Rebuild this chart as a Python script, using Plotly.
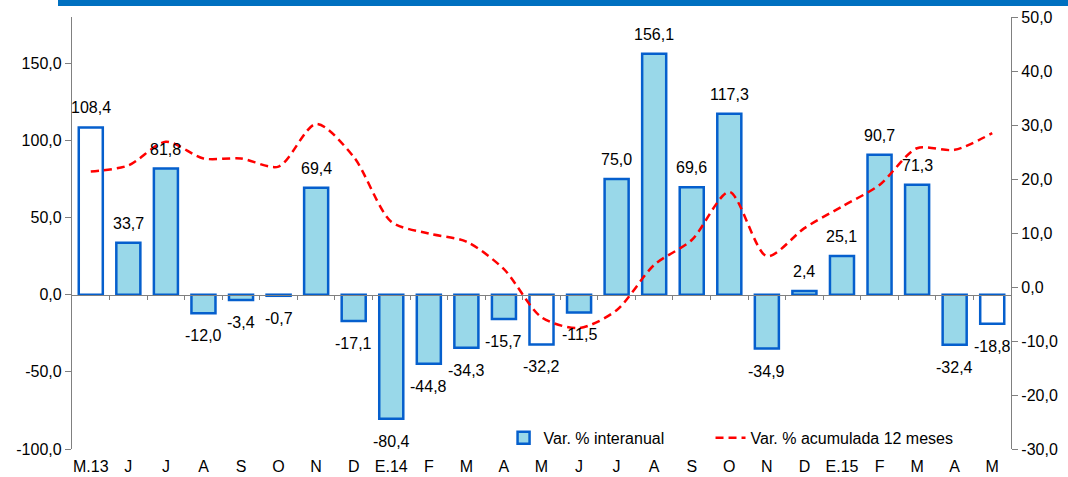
import plotly.graph_objects as go

# ---- data ----
months = ["M.13", "J", "J", "A", "S", "O", "N", "D", "E.14", "F", "M", "A", "M",
          "J", "J", "A", "S", "O", "N", "D", "E.15", "F", "M", "A", "M"]
interanual = [108.4, 33.7, 81.8, -12.0, -3.4, -0.7, 69.4, -17.1, -80.4, -44.8, -34.3,
              -15.7, -32.2, -11.5, 75.0, 156.1, 69.6, 117.3, -34.9, 2.4, 25.1, 90.7,
              71.3, -32.4, -18.8]
acumulada = [21.4, 22.5, 26.9, 23.8, 23.8, 22.3, 30.2, 24.1, 12.1, 9.9, 8.4, 3.3, -5.6,
             -7.6, -4.3, 4.1, 8.7, 17.6, 5.7, 10.9, 14.9, 18.9, 25.7, 25.4, 28.5]
same_month = [0, 12, 24]  # May bars drawn with white fill
left_ticks = [-100, -50, 0, 50, 100, 150]
right_ticks = [-30, -20, -10, 0, 10, 20, 30, 40, 50]


def fmt(v):
    return f"{v:.1f}".replace(".", ",")


x = list(range(len(months)))
y_main = [v if i not in same_month else None for i, v in enumerate(interanual)]
y_may = [v if i in same_month else None for i, v in enumerate(interanual)]

FONT = "Liberation Sans, Arial, sans-serif"
BAR_LINE = "rgb(5,95,205)"
BAR_FILL = "rgb(153,216,233)"
AXIS = "rgb(128,128,128)"

fig = go.Figure()
fig.add_trace(go.Bar(
    x=x, y=y_main, name="Var. % interanual", legend="legend",
    marker=dict(color=BAR_FILL, line=dict(color=BAR_LINE, width=2.5)),
    width=0.64, hoverinfo="skip",
))
fig.add_trace(go.Bar(
    x=x, y=y_may, name="mayo", showlegend=False,
    marker=dict(color="white", line=dict(color=BAR_LINE, width=2.5)),
    width=0.64, hoverinfo="skip",
))
fig.add_trace(go.Scatter(
    x=x, y=acumulada, name="Var. % acumulada 12 meses", legend="legend2",
    mode="lines", xaxis="x2", yaxis="y2",
    line=dict(color="rgb(255,0,0)", width=2.5, dash="8px,5px", shape="spline", smoothing=0.8),
    hoverinfo="skip",
))

# data labels
annotations = []
for i, v in enumerate(interanual):
    pos = v >= 0
    annotations.append(dict(
        x=i, y=v, xref="x", yref="y", text=fmt(v), showarrow=False,
        yanchor="bottom" if pos else "top",
        yshift=9 if pos else -12,
        font=dict(size=16, color="black", family=FONT),
    ))

leg_common = dict(orientation="h", y=-0.0135, xanchor="left", yanchor="bottom",
                  bgcolor="rgba(0,0,0,0)", font=dict(size=16, family=FONT))

fig.update_layout(
    width=1068, height=477,
    margin=dict(l=72, r=57, t=17, b=28, autoexpand=False),
    paper_bgcolor="white", plot_bgcolor="white",
    barmode="overlay",
    font=dict(family=FONT, size=16, color="black"),
    showlegend=True,
    legend=dict(x=0.4596, **leg_common),
    legend2=dict(x=0.680, **leg_common),
    xaxis=dict(
        range=[-0.5, len(months) - 0.5],
        tickmode="array", tickvals=x, ticktext=months,
        showline=False, showgrid=False, zeroline=False, ticks="",
        ticklabelstandoff=6, automargin=False,
        tickfont=dict(size=16, family=FONT),
    ),
    xaxis2=dict(
        range=[-0.5, len(months) - 0.5], overlaying="x", anchor="free",
        position=(0 - (-100)) / (180 - (-100)), side="bottom",
        tickmode="array", tickvals=[i + 0.5 for i in x[:-1]],
        showticklabels=False, ticks="outside", ticklen=4, tickcolor=AXIS,
        showline=True, linecolor=AXIS, linewidth=1.3,
        showgrid=False, zeroline=False, automargin=False,
    ),
    yaxis=dict(
        range=[-100, 180], tickmode="array", tickvals=left_ticks,
        ticktext=[fmt(v) for v in left_ticks],
        showline=True, linecolor=AXIS, linewidth=1.3,
        ticks="outside", ticklen=6, tickcolor=AXIS,
        showgrid=False, zeroline=False, automargin=False,
        tickfont=dict(size=16, family=FONT),
    ),
    yaxis2=dict(
        range=[-30, 50], overlaying="y", side="right", anchor="x2",
        tickmode="array", tickvals=right_ticks,
        ticktext=[fmt(v) for v in right_ticks],
        showline=True, linecolor=AXIS, linewidth=1.3,
        ticks="outside", ticklen=6, tickcolor=AXIS,
        showgrid=False, zeroline=False, automargin=False,
        tickfont=dict(size=16, family=FONT),
    ),
    annotations=annotations,
    shapes=[dict(
        type="rect", xref="paper", yref="paper",
        x0=(58 - 72) / 939, x1=(1068 - 72) / 939,
        y0=(449 - 6) / 432, y1=(449 + 1) / 432,
        fillcolor="rgb(0,112,192)", line=dict(width=0), layer="above",
    )],
)

fig.write_html("out.html", config={"displayModeBar": False},
               post_script="document.body.style.margin='0';document.body.style.overflow='hidden';")
